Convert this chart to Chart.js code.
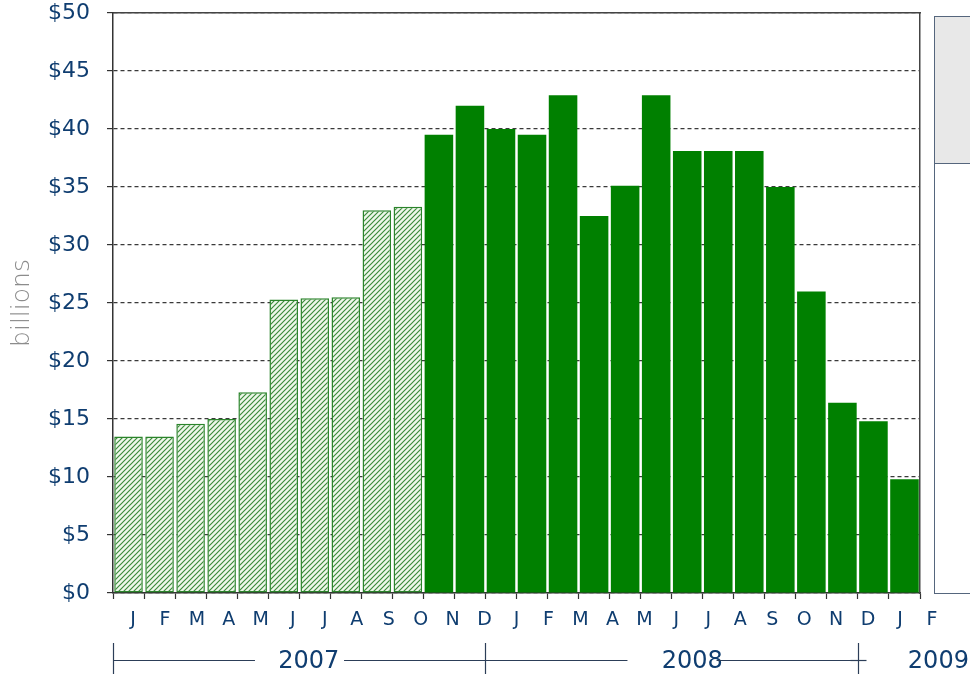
<!DOCTYPE html>
<html><head><meta charset="utf-8">
<script src="https://cdn.jsdelivr.net/npm/chart.js@4.4.0/dist/chart.umd.min.js"></script>
<style>
html,body{margin:0;padding:0;background:#fff;overflow:hidden;}
#wrap{position:relative;width:970px;height:674px;overflow:hidden;}
#panel{position:absolute;left:934px;top:16px;width:60px;height:576px;border:1.5px solid #55667d;background:#fff;}
#panelHead{height:146px;background:#e8e8e8;border-bottom:1.5px solid #55667d;}
</style></head><body>
<div id="wrap"><canvas id="c" width="970" height="674"></canvas><div id="panel"><div id="panelHead"></div></div></div>
<script>
// ---- data ----
const months = ['J','F','M','A','M','J','J','A','S','O','N','D','J','F','M','A','M','J','J','A','S','O','N','D','J','F'];
const years = ['2007','2008','2009'];
const yearMonthCounts = [12, 12, 2];
const hatchedValues = [13.5, 13.5, 14.6, 15.0, 17.3, 25.3, 25.4, 25.5, 33.0, 33.3];
const solidValues = [39.5, 42.0, 40.0, 39.5, 42.9, 32.5, 35.1, 42.9, 38.1, 38.1, 38.1, 35.0, 26.0, 16.4, 14.8, 9.8];
const yMin = 0, yMax = 50, yStep = 5;

// ---- styles ----
const NAVY = '#0f3d70';
const FONT = "'DejaVu Sans', Verdana, sans-serif";

function makeHatch() {
  const s = 5, c = document.createElement('canvas');
  c.width = s; c.height = s;
  const g = c.getContext('2d');
  g.fillStyle = '#eef7ea'; g.fillRect(0, 0, s, s);
  g.strokeStyle = '#3a8a3a'; g.lineWidth = 1.15;
  g.beginPath();
  g.moveTo(0, s); g.lineTo(s, 0);
  g.moveTo(-1, 1); g.lineTo(1, -1);
  g.moveTo(s - 1, s + 1); g.lineTo(s + 1, s - 1);
  g.stroke();
  return g.createPattern(c, 'repeat');
}

const hatchedData = hatchedValues.concat(new Array(solidValues.length).fill(null));
const solidData = new Array(hatchedValues.length).fill(null).concat(solidValues);

const monthMin = -0.625, monthMax = 24.625;
const partialYearShift = 0.7;

function noPad(s) { s.paddingLeft = 0; s.paddingRight = 0; s.paddingTop = 0; s.paddingBottom = 0; }

const yearBrackets = {
  id: 'yearBrackets',
  afterDraw(chart) {
    const x = chart.scales.x, ys = chart.scales.xy, ctx = chart.ctx;
    const lineY = Math.round(ys.top + 23) + 0.5;
    ctx.save();
    ctx.strokeStyle = '#2c3e58'; ctx.lineWidth = 1.2;
    ctx.font = '24px ' + FONT;
    let start = 0;
    yearMonthCounts.forEach((n, i) => {
      const x0 = Math.round(x.getPixelForValue(start - 0.5)) + 0.5;
      ctx.beginPath(); ctx.moveTo(x0, ys.top + 6); ctx.lineTo(x0, chart.height); ctx.stroke();
      ctx.beginPath();
      if (n === 12) {
        const x1 = Math.round(x.getPixelForValue(start + n - 0.5)) + 0.5;
        const mid = (x0 + x1) / 2, half = (ctx.measureText(years[i]).width + 28) / 2;
        ctx.moveTo(x0, lineY); ctx.lineTo(mid - half, lineY);
        ctx.moveTo(mid + half, lineY); ctx.lineTo(x1, lineY);
      } else {
        ctx.moveTo(x0 - 8, lineY); ctx.lineTo(x0 + 8, lineY);
      }
      ctx.stroke();
      start += n;
    });
    ctx.restore();
  }
};

new Chart(document.getElementById('c'), {
  type: 'bar',
  data: {
    labels: months,
    datasets: [
      { data: hatchedData, backgroundColor: makeHatch(), borderColor: '#2b842b', borderWidth: 1.5,
        borderSkipped: false, grouped: false, barPercentage: 0.92, categoryPercentage: 1.0 },
      { data: solidData, backgroundColor: '#008000', borderWidth: 0,
        grouped: false, barPercentage: 0.92, categoryPercentage: 1.0 }
    ]
  },
  options: {
    responsive: false, animation: false, devicePixelRatio: 1,
    layout: { padding: { left: 0, right: 50, top: 13, bottom: 0 } },
    plugins: { legend: { display: false }, tooltip: { enabled: false } },
    scales: {
      x: {
        type: 'category', position: 'bottom', offset: true, weight: 0,
        grid: { display: true, offset: true, drawOnChartArea: false, drawTicks: true, tickLength: 6, tickColor: '#333', tickWidth: 1.2 },
        ticks: { display: false },
        border: { display: true, color: '#333', width: 1.5 },
        afterFit(s) { s.height = 6; noPad(s); }
      },
      xm: {
        type: 'linear', position: 'bottom', weight: 1, min: monthMin, max: monthMax, bounds: 'data', offset: false,
        grid: { display: false, drawTicks: false, offset: false }, border: { display: false },
        afterBuildTicks(s) { s.ticks = months.map((m, i) => ({ value: i })); },
        ticks: { autoSkip: false, maxRotation: 0, minRotation: 0, padding: 10, color: NAVY,
                 font: { family: FONT, size: 19 }, callback: (v, i) => months[i] },
        afterFit(s) { s.height = 38; noPad(s); }
      },
      xy: {
        type: 'linear', position: 'bottom', weight: 2, min: monthMin, max: monthMax, bounds: 'data', offset: false,
        grid: { display: false, drawTicks: false, offset: false }, border: { display: false },
        afterBuildTicks(s) {
          let start = 0; const t = [];
          yearMonthCounts.forEach(n => {
            let c = start + (n - 1) / 2;
            if (n < 12) c += partialYearShift;
            t.push({ value: c }); start += n;
          });
          s.ticks = t;
        },
        ticks: { autoSkip: false, maxRotation: 0, minRotation: 0, padding: 10, color: NAVY,
                 font: { family: FONT, size: 24 }, callback: (v, i) => years[i] },
        afterFit(s) { s.height = 37; noPad(s); }
      },
      xt: {
        type: 'linear', position: 'top', display: true, offset: false,
        grid: { display: false, drawTicks: false, offset: false }, ticks: { display: false },
        border: { display: true, color: '#444', width: 1.5 },
        afterFit(s) { s.height = 0; noPad(s); }
      },
      y: {
        type: 'linear', position: 'left', min: yMin, max: yMax,
        ticks: { stepSize: yStep, padding: 17, color: NAVY, font: { family: FONT, size: 22 },
                 callback: v => '$' + v },
        grid: { color: '#3a3a3a', lineWidth: 1.2, tickLength: 6, tickColor: '#333', tickWidth: 1.2 },
        border: { display: true, color: '#333', width: 1.5, dash: [4, 3] },
        title: { display: true, text: 'billions', color: '#8c8c8c',
                 font: { family: FONT, size: 25, weight: '200' }, padding: { top: 7, bottom: 0 } },
        afterFit(s) { s.width = 113; noPad(s); }
      },
      yr: {
        type: 'linear', position: 'right', display: true,
        grid: { display: false, drawTicks: false }, ticks: { display: false },
        border: { display: true, color: '#444', width: 1.5 },
        afterFit(s) { s.width = 0; noPad(s); }
      }
    }
  },
  plugins: [yearBrackets]
});
</script>
</body></html>
